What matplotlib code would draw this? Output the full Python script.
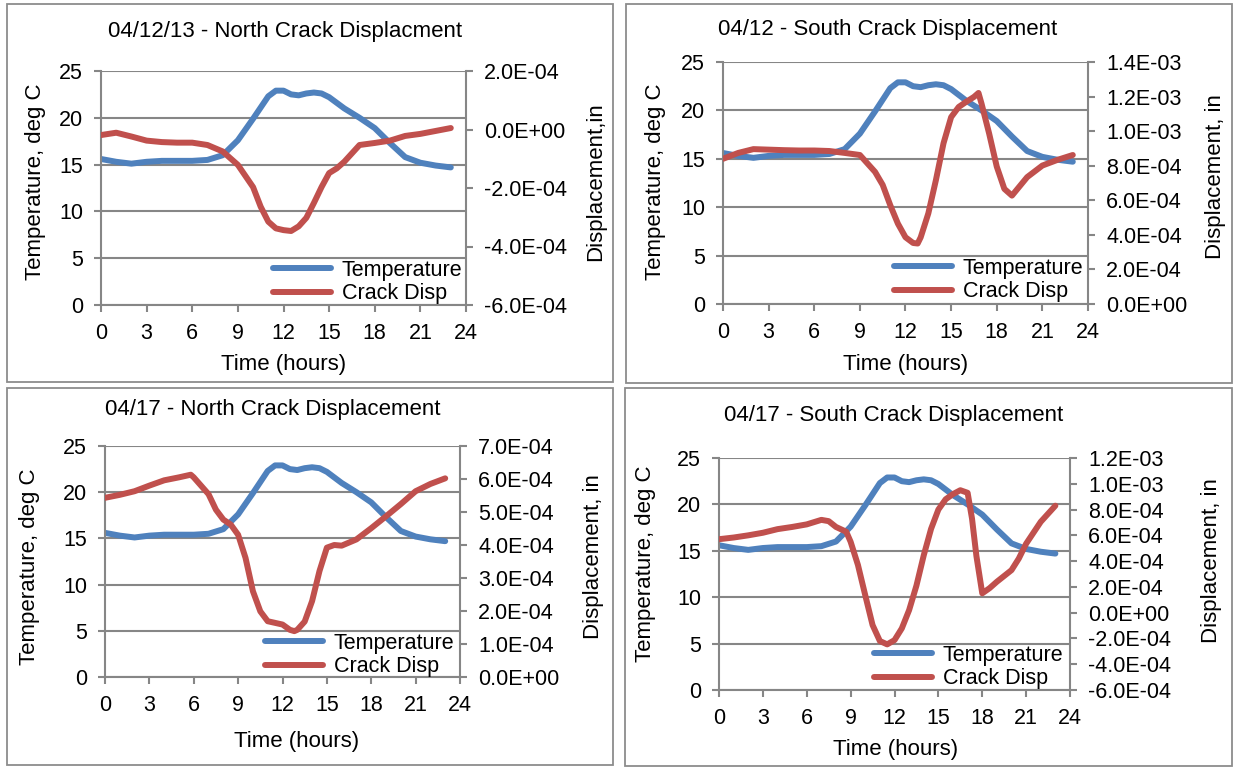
import matplotlib
matplotlib.use("Agg")
import matplotlib.pyplot as plt
from matplotlib.patches import Rectangle
from matplotlib.ticker import FuncFormatter

plt.rcParams['font.family'] = ['Liberation Sans', 'DejaVu Sans']

W, H = 1233, 767
BLUE = '#4F81BD'
RED = '#C0504D'
GRAY = '#868686'
FS = 15.5
TFS = 16

# temperature (deg C), same day profile in all four charts
temp_hours = [0, 1, 2, 3, 4, 5, 6, 7, 8, 9, 10, 11, 11.5, 12, 12.5, 13, 13.5, 14, 14.5,
              15, 16, 17, 18, 19, 20, 21, 22, 23]
temp = [15.6, 15.3, 15.1, 15.3, 15.4, 15.4, 15.4, 15.5, 16.0, 17.6, 19.9, 22.3, 22.9, 22.9,
        22.5, 22.4, 22.6, 22.7, 22.6, 22.2, 21.0, 20.0, 18.9, 17.3, 15.8, 15.2, 14.9, 14.7]

# crack displacement, units of 1E-04 in
n412_hours = [0, 1, 2, 3, 4, 5, 6, 7, 8, 9, 10, 10.5, 11, 11.5, 12, 12.5, 13, 13.5, 14, 14.5,
              15, 15.5, 16, 17, 18, 19, 20, 21, 22, 23]
n412_disp = [-0.19, -0.11, -0.24, -0.38, -0.43, -0.45, -0.45, -0.53, -0.75, -1.21, -1.97,
             -2.64, -3.15, -3.38, -3.44, -3.47, -3.31, -3.02, -2.51, -1.97, -1.49, -1.33,
             -1.10, -0.53, -0.46, -0.38, -0.22, -0.15, -0.05, 0.05]

s412_hours = [0, 1, 2, 3, 4, 5, 6, 7, 8, 9, 10, 10.5, 11, 11.5, 12, 12.5, 12.8, 13, 13.5, 14,
              14.5, 15, 15.5, 16, 16.5, 16.8, 17, 17.5, 18, 18.5, 19, 20, 21, 22, 23]
s412_disp = [8.40, 8.74, 8.96, 8.93, 8.90, 8.88, 8.88, 8.85, 8.74, 8.62, 7.64, 6.89, 5.71,
             4.65, 3.86, 3.53, 3.50, 3.86, 5.24, 7.17, 9.30, 10.81, 11.40, 11.70, 11.98, 12.21,
             11.59, 9.86, 7.95, 6.66, 6.27, 7.34, 8.01, 8.34, 8.62]

n417_hours = [0, 1, 2, 3, 4, 5, 5.8, 6, 7, 7.5, 8, 8.5, 9, 9.5, 10, 10.5, 11, 11.5, 12, 12.5,
              12.8, 13, 13.5, 14, 14.5, 15, 15.5, 16, 17, 18, 19, 20, 21, 22, 23]
n417_disp = [5.43, 5.52, 5.63, 5.80, 5.96, 6.05, 6.13, 6.05, 5.54, 5.07, 4.77, 4.62, 4.31,
             3.61, 2.60, 1.99, 1.69, 1.64, 1.59, 1.43, 1.39, 1.43, 1.68, 2.30, 3.21, 3.92,
             4.00, 3.98, 4.17, 4.51, 4.87, 5.24, 5.63, 5.85, 6.02]

s417_hours = [0, 1, 2, 3, 4, 5, 6, 7, 7.5, 8, 8.7, 9, 9.5, 10, 10.5, 11, 11.5, 12, 12.5, 13,
              13.5, 14, 14.5, 15, 15.5, 16, 16.5, 17, 17.3, 17.6, 18, 18.5, 19, 20, 20.5, 21,
              22, 23]
s417_disp = [5.70, 5.83, 6.00, 6.20, 6.48, 6.65, 6.85, 7.20, 7.10, 6.65, 6.28, 5.50, 3.70,
             1.35, -0.96, -2.20, -2.46, -2.13, -1.22, 0.20, 2.10, 4.45, 6.50, 8.00, 8.80,
             9.20, 9.50, 9.30, 7.30, 4.40, 1.50, 1.90, 2.40, 3.30, 4.20, 5.35, 7.05, 8.30]

x_ticks = [0, 3, 6, 9, 12, 15, 18, 21, 24]
t_ticks = [0, 5, 10, 15, 20, 25]

panels = [
    dict(title="04/12/13 - North Crack Displacment", box=(7, 4, 613, 382),
         ax=(101, 71, 466, 305), title_xy=(285, 32), xlabel_xy=(284, 364),
         ylabel_xy=(36, 182), y2label="Displacement,in", y2label_xy=(596, 182),
         y2=(-6, 2, 2), hours=n412_hours, disp=n412_disp, leg=(273, 282)),
    dict(title="04/12 - South Crack Displacement", box=(626, 4, 1232, 383),
         ax=(723, 62, 1088, 304), title_xy=(888, 29), xlabel_xy=(906, 364),
         ylabel_xy=(655, 182), y2label="Displacement, in", y2label_xy=(1215, 177),
         y2=(0, 14, 2), hours=s412_hours, disp=s412_disp, leg=(894, 280)),
    dict(title="04/17 - North Crack Displacement", box=(7, 388, 613, 765),
         ax=(105, 446, 460, 677), title_xy=(273, 410), xlabel_xy=(297, 742),
         ylabel_xy=(30, 567), y2label="Displacement, in", y2label_xy=(593, 557),
         y2=(0, 7, 1), hours=n417_hours, disp=n417_disp, leg=(265, 655)),
    dict(title="04/17 - South Crack Displacement", box=(625, 388, 1232, 766),
         ax=(719, 458, 1070, 690), title_xy=(894, 416), xlabel_xy=(896, 750),
         ylabel_xy=(645, 564), y2label="Displacement, in", y2label_xy=(1211, 561),
         y2=(-6, 12, 2), hours=s417_hours, disp=s417_disp, leg=(874, 667)),
]


def fx(px):
    return px / W


def fy(py):
    return 1 - py / H


def sci(v, pos):
    if abs(v) < 1e-12:
        v = 0.0
    return f"{v:.1E}"


fig = plt.figure(figsize=(W / 100, H / 100), dpi=100)

for p in panels:
    bx0, by0, bx1, by1 = p["box"]
    fig.patches.append(Rectangle((fx(bx0), fy(by1)), fx(bx1 - bx0), (by1 - by0) / H,
                                 transform=fig.transFigure, fill=False,
                                 edgecolor='#8c8c8c', lw=1.3))

    x0, y0, x1, y1 = p["ax"]
    ax = fig.add_axes([fx(x0), fy(y1), fx(x1 - x0), (y1 - y0) / H])
    ax2 = ax.twinx()

    l1, = ax.plot(temp_hours, temp, color=BLUE, lw=4.3, solid_joinstyle='round',
                  solid_capstyle='round', label="Temperature")
    l2, = ax2.plot(p["hours"], [d * 1e-4 for d in p["disp"]], color=RED, lw=4.3,
                   solid_joinstyle='round', solid_capstyle='round', label="Crack Disp")

    ax.set_xlim(0, 24)
    ax.set_ylim(0, 25)
    ax.set_xticks(x_ticks)
    ax.set_yticks(t_ticks)
    lo, hi, step = p["y2"]
    ax2.set_ylim(lo * 1e-4, hi * 1e-4)
    ax2.set_yticks([i * 1e-4 for i in range(lo, hi + 1, step)])
    ax2.yaxis.set_major_formatter(FuncFormatter(sci))

    ax.yaxis.grid(True, color=GRAY, lw=1.5)
    ax.set_axisbelow(True)
    for s in ["top", "right"]:
        ax.spines[s].set_visible(False)
    for s in ["top", "left", "bottom"]:
        ax2.spines[s].set_visible(False)
    for s in [ax.spines["left"], ax.spines["bottom"], ax2.spines["right"]]:
        s.set_color(GRAY)
        s.set_linewidth(1.5)

    ax.tick_params(axis='both', direction='out', length=5, width=1.5, color=GRAY,
                   labelsize=FS, pad=8)
    ax2.tick_params(axis='y', direction='out', length=5, width=1.5, color=GRAY,
                    labelsize=FS, pad=8)

    fig.text(fx(p["title_xy"][0]), fy(p["title_xy"][1]), p["title"], fontsize=TFS,
             ha='center', va='center')
    fig.text(fx(p["xlabel_xy"][0]), fy(p["xlabel_xy"][1]), "Time (hours)", fontsize=TFS,
             ha='center', va='center')
    fig.text(fx(p["ylabel_xy"][0]), fy(p["ylabel_xy"][1]), "Temperature, deg C",
             fontsize=TFS, ha='center', va='center', rotation=90)
    fig.text(fx(p["y2label_xy"][0]), fy(p["y2label_xy"][1]), p["y2label"],
             fontsize=TFS, ha='center', va='center', rotation=90)

    ax2.legend([l1, l2], ["Temperature", "Crack Disp"], loc='center left',
               bbox_to_anchor=(fx(p["leg"][0]), fy(p["leg"][1])),
               bbox_transform=fig.transFigure, frameon=False, fontsize=FS,
               handlelength=2.7, handletextpad=0.5, labelspacing=0.1,
               borderpad=0, borderaxespad=0)

fig.savefig("out.png", dpi=100)
